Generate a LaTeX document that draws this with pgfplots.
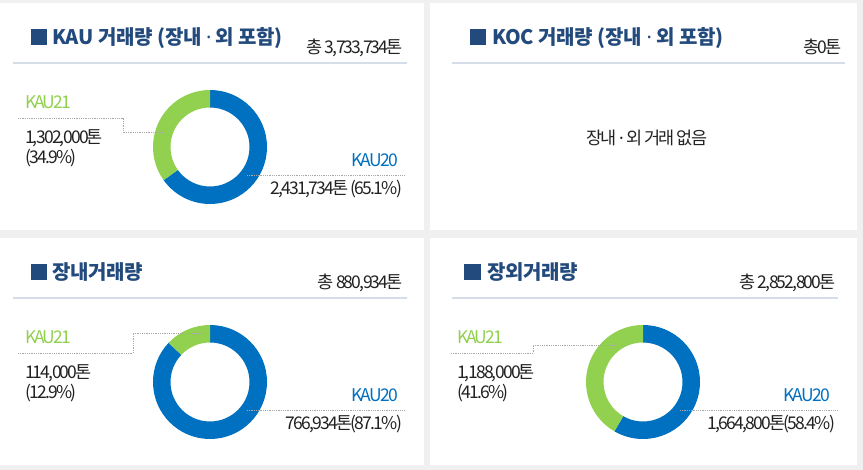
\documentclass[border=0pt]{standalone}
\usepackage{pgfplots}
\pgfplotsset{compat=1.18}
\usepackage{fontspec}
\setmainfont{Noto Sans CJK KR}
\newfontfamily\bodyf[LetterSpace=-10]{Noto Sans CJK KR}
\newfontfamily\ttlf[LetterSpace=-1]{Noto Sans CJK KR}
\newfontfamily\latf{Noto Sans}
\newcommand{\md}{{\latf\char"00B7}}
\definecolor{bg}{HTML}{F0F0F0}
\definecolor{navy}{HTML}{234A7C}
\definecolor{uline}{HTML}{D5DDE8}
\definecolor{kblue}{HTML}{0070C0}
\definecolor{kgreen}{HTML}{92D050}
\definecolor{ktext}{HTML}{222222}
\definecolor{lead}{HTML}{A8A8A8}
\newcommand{\fs}[1]{\fontsize{#1}{#1}\selectfont}
\newcommand{\bt}{\bodyf\fs{17.5}}
\newcommand{\ttx}{\ttlf\fs{20}\bfseries}
\pgfdeclareplotmark{donutseg}{%
  \pgfpathmoveto{\pgfpointpolar{\angA}{57pt}}%
  \pgfpatharc{\angA}{\angB}{57pt}%
  \pgfpathlineto{\pgfpointpolar{\angB}{39.5pt}}%
  \pgfpatharc{\angB}{\angA}{39.5pt}%
  \pgfpathclose
  \pgfusepathqfill
}
% values in thousand tonnes: centre x, centre y, from, to, total
\pgfplotstableread{
cx cy from to tot
210 147 0 2431.734 3733.734
210 382 0 766.934 880.934
643 382 0 1664.8 2852.8
}\kauTwenty
\pgfplotstableread{
cx cy from to tot
210 147 2431.734 3733.734 3733.734
210 382 766.934 880.934 880.934
643 382 1664.8 2852.8 2852.8
}\kauTwentyOne
\begin{document}
\begin{tikzpicture}
% background and panels (pixel coordinates, y downward)
\begin{scope}[x=1pt,y=-1pt,shift={(0,470pt)}]
\fill[bg] (0,0) rectangle (863,470);
\fill[white] (0,3) rectangle (424,230);
\fill[white] (430,3) rectangle (857,230);
\fill[white] (0,238) rectangle (424,465);
\fill[white] (430,238) rectangle (857,465);
\fill[uline] (13,62.5) rectangle (407,64.5);
\fill[uline] (452,62.5) rectangle (845,64.5);
\fill[uline] (13,297.5) rectangle (407,299.5);
\fill[uline] (452,297.5) rectangle (838,299.5);
\end{scope}
\begin{axis}[
  scale only axis, width=863pt, height=470pt,
  xmin=0, xmax=863, ymin=0, ymax=470, y dir=reverse,
  hide axis, clip=false]
\addplot[only marks, mark=donutseg, mark options={fill=kblue, draw=none},
  visualization depends on={90-360*\thisrow{from}/\thisrow{tot}\as\angA},
  visualization depends on={90-360*\thisrow{to}/\thisrow{tot}\as\angB}]
  table[x=cx, y=cy] {\kauTwenty};
\addplot[only marks, mark=donutseg, mark options={fill=kgreen, draw=none},
  visualization depends on={90-360*\thisrow{from}/\thisrow{tot}\as\angA},
  visualization depends on={90-360*\thisrow{to}/\thisrow{tot}\as\angB}]
  table[x=cx, y=cy] {\kauTwentyOne};
\end{axis}
\begin{scope}[x=1pt,y=-1pt,shift={(0,470pt)}, every node/.style={inner sep=0pt, outer sep=0pt}]
% leader lines
\draw[lead, densely dotted, line width=0.8pt] (18,118) -- (123,118) -- (123,132.5) -- (163,132.5);
\draw[lead, densely dotted, line width=0.8pt] (247,175) -- (405,175);
\draw[lead, densely dotted, line width=0.8pt] (18,353) -- (133,353) -- (133,333) -- (205,333);
\draw[lead, densely dotted, line width=0.8pt] (247,410) -- (405,410);
\draw[lead, densely dotted, line width=0.8pt] (451,353) -- (533,353) -- (533,345) -- (615,345);
\draw[lead, densely dotted, line width=0.8pt] (680,410) -- (838,410);
% title squares
\fill[navy] (31,29) rectangle (47,45);
\fill[navy] (470,29) rectangle (486,45);
\fill[navy] (31,264) rectangle (47,280);
\fill[navy] (464,264) rectangle (481,280);
% titles
\node[anchor=base west, text=navy] at (52,45) {\ttx KAU 거래량 (장내 \md{} 외 포함)};
\node[anchor=base west, text=navy] at (492,45) {\ttx KOC 거래량 (장내 \md{} 외 포함)};
\node[anchor=base west, text=navy] at (52,280) {\ttx 장내거래량};
\node[anchor=base west, text=navy] at (487,280) {\ttx 장외거래량};
% totals
\node[anchor=base east, text=ktext] at (403,54) {\bt 총 3,733,734톤};
\node[anchor=base east, text=ktext] at (842,54) {\bt 총0톤};
\node[anchor=base east, text=ktext] at (403,289) {\bt 총 880,934톤};
\node[anchor=base east, text=ktext] at (836,289) {\bt 총 2,852,800톤};
% panel 2 message
\node[anchor=base, text=ktext] at (647,145) {\bt 장내 \md{} 외 거래 없음};
% panel 1 labels
\node[anchor=base west, text=kgreen] at (25,109) {\bt KAU21};
\node[anchor=base west, text=ktext] at (25,144) {\bt 1,302,000톤};
\node[anchor=base west, text=ktext] at (25,164) {\bt (34.9\%)};
\node[anchor=base east, text=kblue] at (398,167) {\bt KAU20};
\node[anchor=base east, text=ktext] at (402,195) {\bt 2,431,734톤 (65.1\%)};
% panel 3 labels
\node[anchor=base west, text=kgreen] at (25,344) {\bt KAU21};
\node[anchor=base west, text=ktext] at (25,379) {\bt 114,000톤};
\node[anchor=base west, text=ktext] at (25,399) {\bt (12.9\%)};
\node[anchor=base east, text=kblue] at (398,402) {\bt KAU20};
\node[anchor=base east, text=ktext] at (402,430) {\bt 766,934톤(87.1\%)};
% panel 4 labels
\node[anchor=base west, text=kgreen] at (457,344) {\bt KAU21};
\node[anchor=base west, text=ktext] at (457,379) {\bt 1,188,000톤};
\node[anchor=base west, text=ktext] at (457,399) {\bt (41.6\%)};
\node[anchor=base east, text=kblue] at (830,402) {\bt KAU20};
\node[anchor=base east, text=ktext] at (835,430) {\bt 1,664,800톤(58.4\%)};
\end{scope}
\end{tikzpicture}
\end{document}
